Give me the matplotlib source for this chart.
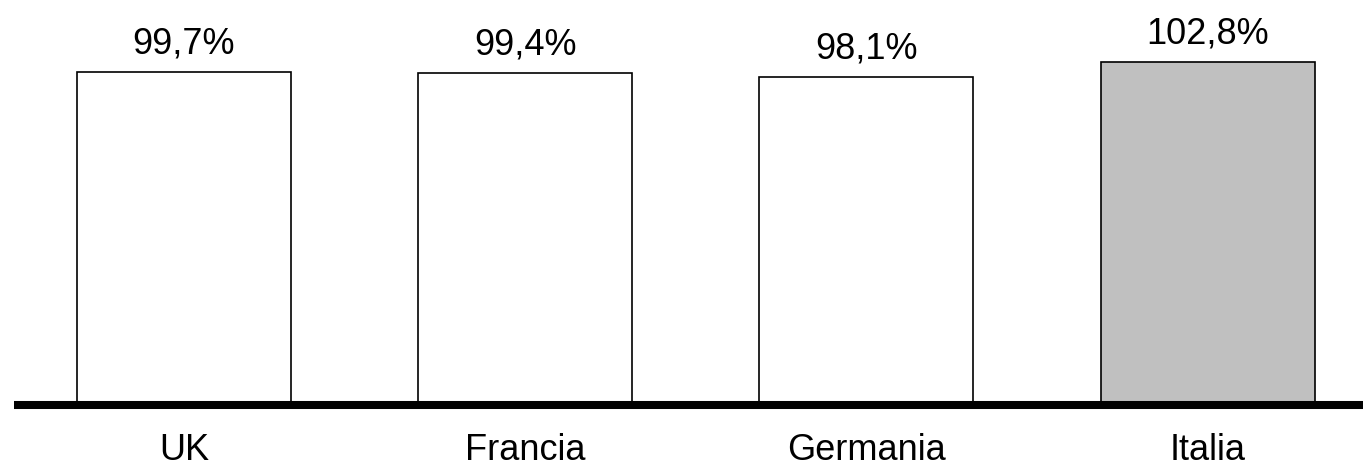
import matplotlib
matplotlib.use("Agg")
import matplotlib.pyplot as plt

# data
countries = ["UK", "Francia", "Germania", "Italia"]
values = [99.7, 99.4, 98.1, 102.8]
labels = ["99,7%", "99,4%", "98,1%", "102,8%"]
colors = ["white", "white", "white", "#C0C0C0"]

plt.rcParams["font.family"] = ["Liberation Sans", "DejaVu Sans"]

fig = plt.figure(figsize=(13.63, 4.67), dpi=100)
ax = fig.add_axes([14 / 1363, 62 / 467, 1 - 14 / 1363, 1 - 62 / 467])

x = list(range(len(countries)))
bars = ax.bar(x, values, width=0.627, color=colors, edgecolor="black", linewidth=1.2)

for b, lab in zip(bars, labels):
    ax.annotate(lab, (b.get_x() + b.get_width() / 2, b.get_height()),
                xytext=(0, 13.5), textcoords="offset points",
                ha="center", va="baseline", fontsize=26)

ax.set_xlim(-0.498, 3.455)
ax.set_ylim(0, 121.3)
ax.set_xticks(x)
ax.set_xticklabels(countries, fontsize=26)
ax.tick_params(axis="x", length=0, pad=20)
ax.set_yticks([])
for s in ["top", "left", "right"]:
    ax.spines[s].set_visible(False)
ax.spines["bottom"].set_linewidth(5.8)
ax.spines["bottom"].set_capstyle("butt")

fig.savefig("out.png", dpi=100)
